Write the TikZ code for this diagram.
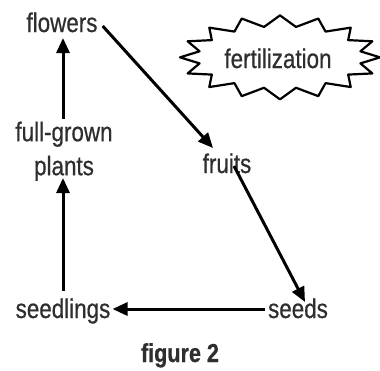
\documentclass[tikz,border=0pt]{standalone}
\usepackage{fontspec}
\setmainfont{Liberation Sans}[FakeStretch=0.83,FakeBold=0.6]
\usetikzlibrary{arrows.meta,calc}
\definecolor{txtc}{HTML}{2E2E2E}
\tikzset{
  lbl/.style={inner sep=0pt, text=txtc, font=\fontsize{27}{34}\selectfont},
  arr/.style={line width=3pt, -{Triangle[length=15pt,width=13pt]}},
  burst/.style={line width=2.2pt, line join=round}
}
\begin{document}
\begin{tikzpicture}[x=1pt,y=-1pt]
\useasboundingbox (0,0) rectangle (380,370);
\node[lbl, anchor=base] (flowers) at (62,32) {flowers};
\node[lbl, anchor=base] (fert) at (278,68) {fertilization};
\node[lbl, anchor=south, align=center] (plants) at (64,181) {full-grown\\plants};
\node[lbl, anchor=base] (fruits) at (227,173) {fruits};
\node[lbl, anchor=base] (seeds) at (298,318) {seeds};
\node[lbl, anchor=base] (seedlings) at (63,318) {seedlings};
\node[lbl, anchor=base, font=\fontsize{26}{30}\selectfont\bfseries] (fig) at (180,362) {figure 2};
% burst around fertilization
\draw[burst, shift={($(fert.center)+(2,-1)$)}]
  (0:100 and 42) \foreach \i in {1,...,31} {
    -- ({(mod(\i,2)==0 ? 100 : 82)*cos(\i*11.25)}, {(mod(\i,2)==0 ? 42 : 31)*sin(\i*11.25)})
  } -- cycle;
% arrows
\draw[arr] ($(flowers.base east)+(5,-6)$) -- ($(fruits.base)+(-14,-25)$);
\draw[arr] ($(fruits.base)+(7,-7)$) -- ($(seeds.base)+(7,-16)$);
\draw[arr] ($(seeds.base west)+(-3,-9)$) -- ($(seedlings.base east)+(2,-9)$);
\draw[arr] ($(seedlings.base)+(0,-27)$) -- ($(plants.south)+(-1,-3)$);
\draw[arr] ($(plants.north)+(-1,-2)$) -- ($(flowers.base)+(1,6)$);
\end{tikzpicture}
\end{document}
